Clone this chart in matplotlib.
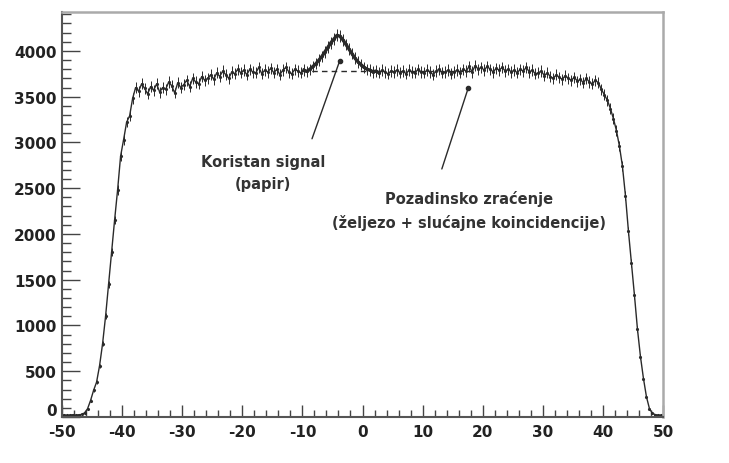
import numpy as np
import matplotlib
matplotlib.use('agg')
import matplotlib.pyplot as plt
import matplotlib.ticker as tkr
import matplotlib.transforms as mtrans

plt.rcParams['font.family'] = ['DejaVu Sans']
plt.rcParams['axes.unicode_minus'] = False

# histogram: 200 bins of width 0.5 between -50 and 50
bin_lo = -50.0
bin_w = 0.5
counts = [
    22, 18, 20, 24, 19, 23, 28, 45, 90, 180,
    290, 380, 560, 800, 1100, 1450, 1800, 2150, 2480, 2850,
    3030, 3220, 3290, 3480, 3600, 3560, 3640, 3590, 3530, 3610,
    3570, 3640, 3550, 3600, 3580, 3660, 3620, 3540, 3650, 3600,
    3630, 3680, 3610, 3700, 3660, 3640, 3720, 3680, 3700, 3740,
    3690, 3760, 3720, 3780, 3740, 3700, 3770, 3750, 3800, 3760,
    3790, 3740, 3800, 3770, 3760, 3820, 3750, 3790, 3770, 3810,
    3760, 3800, 3740, 3790, 3820, 3770, 3750, 3800, 3780, 3760,
    3790, 3775, 3800, 3830, 3860, 3900, 3940, 3990, 4040, 4090,
    4130, 4170, 4160, 4120, 4070, 4020, 3970, 3920, 3880, 3850,
    3820, 3800, 3790, 3770, 3780, 3760, 3790, 3770, 3750, 3780,
    3770, 3790, 3760, 3780, 3750, 3790, 3770, 3760, 3800, 3770,
    3760, 3790, 3770, 3740, 3780, 3800, 3760, 3770, 3790, 3750,
    3770, 3790, 3760, 3800, 3780, 3830, 3770, 3840, 3800, 3820,
    3790, 3830, 3800, 3770, 3810, 3790, 3820, 3780, 3800, 3770,
    3790, 3760, 3800, 3780, 3820, 3770, 3790, 3750, 3760, 3780,
    3730, 3760, 3720, 3700, 3740, 3710, 3690, 3730, 3700, 3680,
    3710, 3670, 3690, 3650, 3700, 3660, 3640, 3680, 3650, 3580,
    3520, 3460, 3370, 3260, 3130, 2960, 2740, 2420, 2030, 1680,
    1330, 960, 660, 420, 220, 90, 40, 25, 20, 18,
]

# flat background under the peak
bg_x = [-10, 18]
bg_y = [3780, 3780]
peak_range = (-10.0, 3.0)

x_ticks = [-50, -40, -30, -20, -10, 0, 10, 20, 30, 40, 50]
y_ticks = [0, 500, 1000, 1500, 2000, 2500, 3000, 3500, 4000]

label_signal = 'Koristan signal\n(papir)'
label_bg = 'Pozadinsko zraćenje\n(željezo + slućajne koincidencije)'

counts = np.array(counts, dtype=float)
centers = bin_lo + bin_w * (np.arange(len(counts)) + 0.5)
errs = np.sqrt(counts)

fig = plt.figure(figsize=(7.29, 4.64), dpi=100)
ax = fig.add_axes([62 / 729, 46 / 464, 601 / 729, 405 / 464])

ink = '#2a2a2a'
ax.errorbar(centers, counts, yerr=errs, fmt='-', color=ink, lw=1.0,
            elinewidth=0.7, capsize=0, marker='.', ms=2.5)
sel = (centers >= peak_range[0]) & (centers <= peak_range[1])
ax.plot(centers[sel], counts[sel], color=ink, lw=2.4)
ax.plot(bg_x, bg_y, color=ink, lw=1.0, ls=(0, (4, 3)))

# labels with pointer lines
txt = dict(fontsize=10.5, fontweight='bold', color='#333333',
           ha='center', va='center', linespacing=1.6)
ax.text(-16.6, 2670, label_signal, **txt)
ax.text(17.7, 2262, label_bg, **txt)
arrows = [((-8.4, 3040), (-3.8, 3890)), ((13.2, 2710), (17.6, 3596))]
for start, end in arrows:
    ax.annotate('', xy=end, xytext=start,
                arrowprops=dict(arrowstyle='-', color=ink, lw=1.0,
                                shrinkA=0, shrinkB=0))
    ax.plot(*end, 'o', color=ink, ms=3)

ax.set_xlim(-50, 50)
ax.set_ylim(0, 4425)
ax.set_xticks(x_ticks)
ax.set_yticks(y_ticks)
ax.xaxis.set_minor_locator(tkr.MultipleLocator(2))
ax.yaxis.set_minor_locator(tkr.MultipleLocator(100))

ax.tick_params(axis='both', which='both', direction='in', colors='#444444',
               labelcolor='#222222', labelsize=11, width=1.0)
ax.tick_params(axis='y', which='major', length=13, pad=4)
ax.tick_params(axis='y', which='minor', length=6.5)
ax.tick_params(axis='x', which='major', length=8.5, pad=5)
ax.tick_params(axis='x', which='minor', length=5)
for lab in ax.get_xticklabels() + ax.get_yticklabels():
    lab.set_fontweight('bold')
# lift the "0" a little so it clears the x labels
zero_lab = ax.yaxis.get_major_ticks()[0].label1
zero_lab.set_transform(zero_lab.get_transform() +
                       mtrans.ScaledTranslation(0, 6 / 72, fig.dpi_scale_trans))

for side in ['left', 'bottom']:
    ax.spines[side].set_color('#555555')
    ax.spines[side].set_linewidth(1.5)
for side in ['top', 'right']:
    ax.spines[side].set_color('#aaaaaa')
    ax.spines[side].set_linewidth(1.8)

plt.savefig('out.png', dpi=100)
